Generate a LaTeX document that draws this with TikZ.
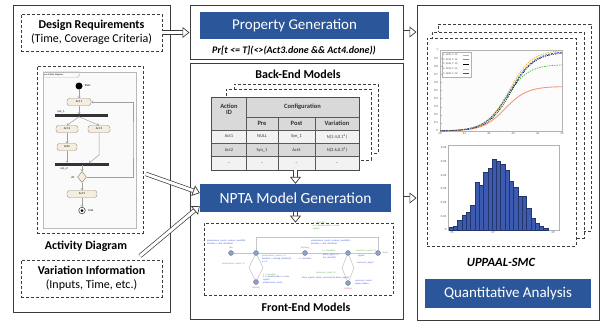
\documentclass[tikz,border=0pt]{standalone}
\usepackage{fontspec}
\setmainfont{Carlito}
\usetikzlibrary{arrows.meta,shapes.geometric,calc}
\definecolor{bannerblue}{RGB}{43,87,154}
\definecolor{panelgray}{RGB}{60,60,60}
\definecolor{actfill}{RGB}{245,238,222}
\definecolor{actdraw}{RGB}{150,140,125}
\definecolor{hdrgray}{RGB}{217,217,217}
\definecolor{rowlight}{RGB}{242,242,242}
\definecolor{fblue}{RGB}{70,90,210}
\definecolor{fgreen}{RGB}{90,175,70}
\definecolor{fred}{RGB}{200,100,140}
\definecolor{locfill}{RGB}{140,160,200}
\definecolor{salmon}{RGB}{250,150,120}
\definecolor{pgreen}{RGB}{80,180,60}
\definecolor{pyellow}{RGB}{235,190,60}
\definecolor{pblue}{RGB}{50,80,180}
\definecolor{barblue}{RGB}{60,90,175}
\tikzset{
  panel/.style={draw=panelgray, line width=1pt, inner sep=0},
  dbox/.style={draw=panelgray, line width=0.8pt, dash pattern=on 3pt off 2pt, inner sep=0},
  banner/.style={fill=bannerblue, text=white, inner sep=0},
  hollow/.style={draw=panelgray, line width=0.7pt, double=white, double distance=3pt,
     -{Triangle[open, length=7pt, width=11pt, line width=0.7pt, fill=white]}},
  act/.style={draw=actdraw, fill=actfill, rounded corners=2.5pt, minimum height=7pt, inner sep=0,
     font=\fontsize{3}{3.5}\selectfont},
  tinyt/.style={inner sep=0, font=\fontsize{3}{3.5}\selectfont},
  aarrow/.style={draw=gray!75, line width=0.5pt, -{Straight Barb[length=1.6pt,width=2.6pt]}},
  hdr/.style={inner sep=0, font=\fontsize{6.5}{7}\selectfont\bfseries, align=center, text=black!80},
  cell/.style={inner sep=0, font=\fontsize{4.5}{5}\selectfont, text=black!80},
  ft/.style={inner sep=0, anchor=west, font=\fontsize{2.4}{2.9}\selectfont, align=left},
  loc/.style={circle, fill=locfill, draw=locfill!70!black, line width=0.3pt, minimum size=5pt, inner sep=0},
  fedge/.style={draw=gray!45, line width=0.6pt},
  axl/.style={inner sep=0, font=\fontsize{3}{3.5}\selectfont, text=black!70},
}
\begin{document}
\begin{tikzpicture}[x=1pt,y=-1pt]
\useasboundingbox (0,0) rectangle (602,324);

% ================= LEFT PANEL =================
\node[panel, minimum width=157pt, minimum height=307pt] (left) at (91.5,158.5) {};
\node[dbox, minimum width=141pt, minimum height=37pt, align=center,
      font=\fontsize{12}{14}\selectfont] (dr) at (91.5,32.5)
      {\textbf{Design Requirements}\\(Time, Coverage Criteria)};
\node[dbox, minimum width=106pt, minimum height=167pt] (actbox) at (90,149.5) {};
% activity diagram frame
\node[draw=gray!55, fill=black!2, line width=0.5pt, minimum width=93pt, minimum height=156pt, inner sep=0] (adframe) at (89.5,150) {};
\draw[draw=gray!55, line width=0.4pt] (adframe.north west) -- ++(37,0) -- ++(0,3) -- ++(-3,3) -- ++(-34,0);
\node[tinyt, anchor=west, font=\fontsize{2.3}{2.6}\selectfont] (adtitle) at (44,75) {act Activity Diagram};
\node[circle, fill=black, minimum size=7pt, inner sep=0] (start) at (79,86) {};
\node[tinyt, anchor=west] (startl) at ([xshift=2pt]start.east) {Start};
\node[act, minimum width=24pt] (act1) at (79,102) {Act 1};
\node[draw=black!80, fill=black!80, minimum width=52pt, minimum height=2pt, inner sep=0] (syn1) at (81,115.5) {};
\node[tinyt] (syn1l) at (61,111.5) {syn\_1};
\node[act, minimum width=22pt] (act2) at (67,129) {Act 2};
\node[act, minimum width=22pt] (act3) at (99,129) {Act 3};
\node[act, minimum width=20pt] (act4) at (67,147) {Act4};
\node[draw=black!80, fill=black!80, minimum width=53pt, minimum height=2pt, inner sep=0] (syn2) at (81.5,164) {};
\node[tinyt] (syn2l) at (64,169) {syn\_2};
\node[diamond, draw=actdraw, fill=actfill, minimum width=9pt, minimum height=11pt, inner sep=0, line width=0.5pt] (d1) at (82,177) {};
\node[tinyt] (d1l) at (73,177) {d1};
\node[act, minimum width=30pt] (act5) at (82,194) {Act 5};
\node[circle, draw=black!80, fill=white, minimum size=6.5pt, inner sep=0, line width=0.5pt] (endn) at (82,210.5) {};
\node[circle, fill=black, minimum size=3pt, inner sep=0] (endc) at (endn.center) {};
\node[tinyt, anchor=west] (endl) at ([xshift=3pt]endn.east) {End};
\coordinate (j3) at (99,155);
\coordinate (s2in) at (89,163);
\coordinate (loopx) at (133,140);
\draw[aarrow] (start) -- (act1);
\draw[aarrow] (act1) -- (act1 |- syn1.north);
\draw[aarrow] (syn1.south -| act1) -- (act2.north);
\draw[aarrow] (syn1.south -| act1) -- (act3.north);
\draw[aarrow] (act2) -- (act4);
\draw[aarrow] (act4) -- (act4 |- syn2.north);
\draw[aarrow] (act3.south) -- (j3) -- (s2in);
\draw[aarrow] (syn2.south -| d1) -- (d1.north);
\draw[aarrow] (d1) -- (act5);
\draw[aarrow] (act5) -- (endn);
\draw[aarrow] (d1.east) -| (loopx) |- (act1.east);
\node[font=\fontsize{12}{14}\selectfont\bfseries] (adlabel) at (86,246) {Activity Diagram};
\node[dbox, minimum width=141pt, minimum height=37pt, align=center,
      font=\fontsize{12}{14}\selectfont] (vi) at (91.5,278.5)
      {\textbf{Variation Information}\\(Inputs, Time, etc.)};

% ================= MIDDLE TOP =================
\node[panel, minimum width=213pt, minimum height=54pt] (prop) at (296.5,32) {};
\node[banner, minimum width=189pt, minimum height=27pt, font=\fontsize{15}{17}\selectfont] (propb) at (294.5,25.5) {Property Generation};
\node[inner sep=0, font=\fontsize{10}{11}\selectfont\bfseries\itshape] (formula) at (294,51) {Pr[t <= T](<>(Act3.done \&\& Act4.done))};

% ================= MIDDLE BOTTOM =================
\node[panel, minimum width=213pt, minimum height=256pt] (mid) at (296.5,191) {};
\node[font=\fontsize{12}{14}\selectfont\bfseries] (belabel) at (298,74) {Back-End Models};
% stacked pages
\node[dbox, fill=white, minimum width=144pt, minimum height=69pt] (page3) at (306,118.5) {};
\node[dbox, fill=white, minimum width=145pt, minimum height=71pt] (page2) at (298.5,124.5) {};
% table
\node[draw=black!70, fill=white, line width=0.8pt, minimum width=147pt, minimum height=72pt, inner sep=0] (table) at (285.5,134) {};
\fill[hdrgray] (212,98) rectangle (359,130);
\fill[rowlight] (212,130) rectangle (359,143);
\fill[hdrgray] (212,143) rectangle (359,156.5);
\fill[rowlight] (212,156.5) rectangle (359,170);
\draw[black!65, line width=0.5pt] (246,117) -- (359,117)
   (212,130) -- (359,130) (212,143) -- (359,143) (212,156.5) -- (359,156.5)
   (246,98) -- (246,170) (278,117) -- (278,170) (315,117) -- (315,170);
\draw[black!70, line width=0.8pt] (table.north west) rectangle (table.south east);
\node[hdr] (h0) at (229,109) {Action\\[-1pt]ID};
\node[hdr] (h1) at (302.5,106.5) {Configuration};
\node[hdr] (h2) at (262,123.5) {Pre};
\node[hdr] (h3) at (296.5,123.5) {Post};
\node[hdr] (h4) at (337,123.5) {Variation};
\node[cell] (c11) at (229,136.5) {Act1};
\node[cell] (c12) at (262,136.5) {NULL};
\node[cell] (c13) at (296.5,136.5) {Syn\_1};
\node[cell] (c14) at (337,136.5) {N(1.4,0.1\textsuperscript{2})};
\node[cell] (c21) at (229,150) {Act2};
\node[cell] (c22) at (262,150) {Syn\_1};
\node[cell] (c23) at (296.5,150) {Act4};
\node[cell] (c24) at (337,150) {N(2.6,0.3\textsuperscript{2})};
\node[cell] (c31) at (229,163.5) {--};
\node[cell] (c32) at (262,163.5) {--};
\node[cell] (c33) at (296.5,163.5) {--};
\node[cell] (c34) at (337,163.5) {--};
% NPTA
\node[banner, minimum width=191pt, minimum height=28pt, font=\fontsize{15.5}{17}\selectfont] (npta) at (295.5,198) {NPTA Model Generation};
% front-end
\node[dbox, minimum width=189pt, minimum height=72pt] (front) at (298.5,259) {};
\node[loc] (L0) at (231,253) {};
\node[loc] (L1) at (256,253) {};
\node[loc] (L2) at (256,282) {};
\node[loc] (L3) at (305,253) {};
\node[loc] (L4) at (348,253) {};
\node[loc] (L5) at (378,253) {};
\node[loc] (L6) at (348,283) {};
\coordinate (t1) at (256,237);
\coordinate (t2) at (378,237);
\coordinate (lz1) at (249,267.5);
\coordinate (lz2) at (263,267.5);
\coordinate (lz3) at (342,268);
\coordinate (lz4) at (354,268);
\draw[fedge] (L0) -- (L1) -- (L3) -- (L4) -- (L5);
\draw[fedge] (L1) -- (t1) -- (t2) -- (L5);
\draw[fedge] (L1) -- (lz1) -- (L2) -- (lz2) -- (L1);
\draw[fedge] (L4) -- (lz3) -- (L6) -- (lz4) -- (L4);
\node[ft, text=fblue] (f1) at (207,242.5) {predecessor\_count = receive\_count(id),\\duration = rand\_duration()};
\node[ft, text=fred, anchor=south] (f2) at ([yshift=1.5pt]L0.north) {Idle};
\node[ft, text=fgreen] (f3) at (222,264) {predecessor\_count > 0};
\node[ft, text=fgreen] (f4) at (262,255.5) {predecessor\_count == 0};
\node[ft, text=fblue] (f5) at (262,260) {duration = running\_duration(),\\x := 0};
\node[ft, text=fgreen] (f6) at (263,275) {c == duration};
\node[ft, text=fblue] (f7) at (263,280) {x >= duration \&\& c <= max,\\signal!\\predecessor\_count--};
\node[ft, text=fred, anchor=north] (f8) at ([yshift=-1.5pt]L2.south) {Waiting};
\node[ft, text=fgreen] (f9) at (313,226) {c := duration\\x >= duration \&\& x <= max,\\signal!};
\node[ft, text=fblue] (f10) at (311,242) {predecessor\_count = receive\_count(id) +\\duration = rand\_duration()};
\node[ft, text=fred, anchor=south] (f11) at ([yshift=1.5pt]L3.north) {Running};
\node[ft, text=fblue, anchor=north] (f12) at ([yshift=-1.5pt]L3.south) {x <= duration};
\node[ft, text=fgreen] (f13) at (322,250.5) {x == duration};
\node[ft, text=fblue] (f14) at (323,256.5) {done\_signal = 1,\\act\_done(id)};
\node[ft, text=fgreen] (f15) at (356,250.5) {successor\_count > 0};
\node[ft, text=fblue] (f16) at (358,255.5) {signal!};
\node[ft, text=fred, anchor=west] (f17) at ([xshift=2pt]L5.east) {Done};
\node[ft, text=fblue] (f18) at (357,263) {successor\_signal};
\node[ft, text=fgreen] (f19) at (316,273) {successor\_count > 0};
\node[ft, text=fblue] (f20) at (302,277.5) {done\_signal = select\_successor(id, done\_signal)};
\node[ft, text=fblue] (f21) at (355,282) {successor\_count--,\\signal\_index++};
\node[ft, text=fred, anchor=north] (f22) at ([yshift=-1.5pt]L6.south) {Waiting};
\node[font=\fontsize{12}{14}\selectfont\bfseries] (felabel) at (306,307) {Front-End Models};

% ================= RIGHT PANEL =================
\node[panel, minimum width=182pt, minimum height=315pt] (right) at (508,162.5) {};
\node[dbox, fill=white, minimum width=153pt, minimum height=207pt] (rp3) at (514.5,127.5) {};
\node[dbox, fill=white, minimum width=152pt, minimum height=206pt] (rp2) at (508,135) {};
\node[dbox, fill=white, minimum width=149pt, minimum height=208pt] (rp1) at (501.5,142) {};
% line plot
\node[draw=gray!60, fill=black!1, line width=0.4pt, minimum width=122pt, minimum height=81pt, inner sep=0] (plot) at (501,90.5) {};
\foreach \v [count=\i from 0] in {0,0.1,0.2,0.3,0.4,0.5,0.6,0.7,0.8,0.9,1} {
  \draw[gray!60, line width=0.3pt] (440,{131-8.1*\i}) -- ++(1.5,0);
  \node[axl, anchor=east] (yl\i) at (438,{131-8.1*\i}) {\v};
}
\foreach \v [count=\i from 0] in {40,41,42,43,44,45} {
  \node[axl, anchor=north] (xl\i) at ({440+24.4*\i},132.5) {\v};
}
\draw[salmon, line width=0.9pt] plot[domain=440:562, samples=50] (\x, {131-81*0.55/(1+exp(-(\x-505)/11))});
\draw[pgreen, line width=0.7pt, dash pattern=on 1.5pt off 1pt] plot[domain=440:562, samples=50] (\x, {131-81*0.82/(1+exp(-(\x-506)/11))});
\draw[black, line width=0.6pt, dash pattern=on 1pt off 1pt] plot[domain=440:562, samples=50] (\x, {131-81*0.97/(1+exp(-(\x-511)/11.5))});
\draw[pyellow, line width=0.8pt, dash pattern=on 1.5pt off 1pt] plot[domain=440:562, samples=50] (\x, {131-81*1.0/(1+exp(-(\x-509)/11.5))});
\draw[pblue, line width=0.7pt, dash pattern=on 2pt off 1pt] plot[domain=440:562, samples=50] (\x, {131-81*0.985/(1+exp(-(\x-510)/12))});
\foreach \xx in {444,452,...,560} {
  \fill[black] (\xx, {131-81*0.97/(1+exp(-(\xx-511)/11.5))}) circle (0.5pt);
}
% legend
\node[draw=gray!60, fill=white, line width=0.3pt, minimum width=29pt, minimum height=25pt, inner sep=0] (legend) at (456.5,64.5) {};
\foreach \c/\t [count=\i from 0] in {salmon/2400,pgreen/2450,black/2500,pyellow/2550,pblue/2600} {
  \node[axl, anchor=west, font=\fontsize{2.6}{3}\selectfont] (lg\i) at (443,{55+4.6*\i}) {C: \t, T: 40};
  \draw[\c, line width=0.6pt] (463,{55+4.6*\i}) -- (469,{55+4.6*\i});
}
% histogram
\node[draw=gray!60, fill=white, line width=0.4pt, minimum width=111pt, minimum height=85pt, inner sep=0] (hist) at (503.5,187.5) {};
\foreach \v [count=\i from 0] in {0.002,0.003,0.007,0.011,0.013,0.018,0.035,0.033,0.042,0.045,0.052,0.050,0.048,0.044,0.036,0.031,0.025,0.025,0.016,0.009,0.005,0.003,0.001} {
  \filldraw[fill=barblue, draw=barblue!60!black, line width=0.3pt] ({449+4.3*\i},230) rectangle ({453.3+4.3*\i},{230-1370*\v});
}
\foreach \v [count=\i from 0] in {0,0.01,0.02,0.03,0.04,0.05,0.06} {
  \node[axl, anchor=east] (hy\i) at (446.5,{230-13.7*\i}) {\v};
}
\node[axl, anchor=north] (hx0) at (452,231.5) {35};
\node[axl, anchor=north] (hx1) at (493,231.5) {37};
\node[axl, anchor=north] (hx2) at (553,231.5) {39};
\node[font=\fontsize{12.5}{14}\selectfont\bfseries\itshape] (smc) at (501,262) {UPPAAL-SMC};
\node[banner, minimum width=166pt, minimum height=29pt, font=\fontsize{15}{17}\selectfont] (qa) at (508,293.5) {Quantitative Analysis};

% ================= HOLLOW ARROWS =================
\draw[hollow] (dr.east) -- (dr.east -| prop.west);
\draw[hollow] (prop.east) -- (prop.east -| right.west);
\draw[hollow] (npta.east -| mid.east) -- (npta.east -| right.west);
\coordinate (a4s) at (146,174);
\coordinate (a5s) at (140,256);
\draw[hollow] (a4s) -- ($(npta.west)+(0,-5)$);
\draw[hollow] (a5s) -- ($(npta.west)+(0,8)$);
\draw[hollow] (npta.north |- table.south) -- (npta.north);
\draw[hollow] (npta.south) -- (npta.south |- front.north);
\end{tikzpicture}
\end{document}
